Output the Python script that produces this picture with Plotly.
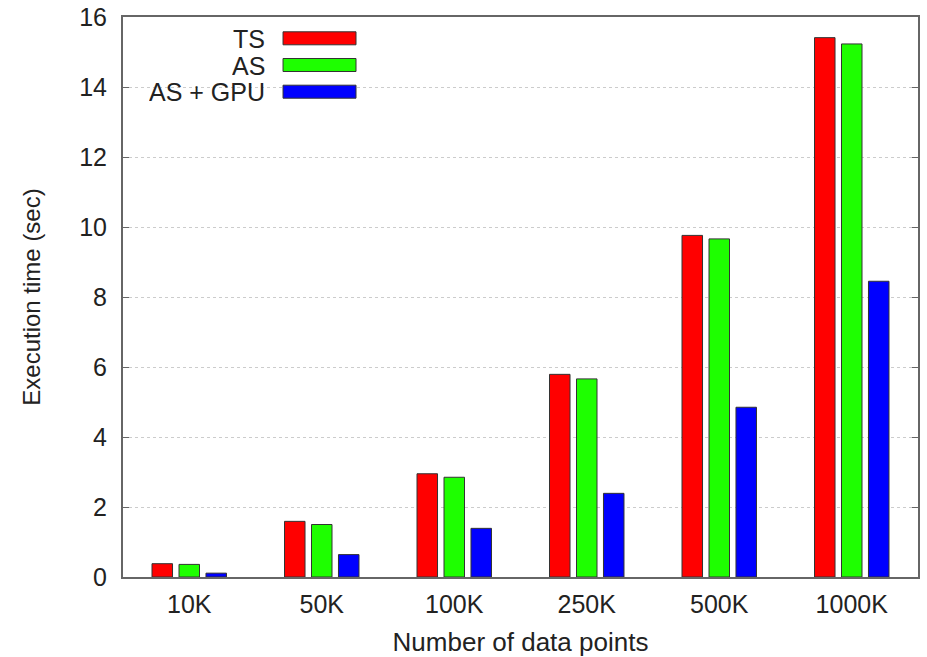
import plotly.graph_objects as go

# Benchmark data: execution time (seconds) per data-set size
categories = ["10K", "50K", "100K", "250K", "500K", "1000K"]
series_names = ["TS", "AS", "AS + GPU"]
ts_times = [0.38, 1.59, 2.95, 5.79, 9.76, 15.41]
as_times = [0.36, 1.50, 2.85, 5.66, 9.66, 15.23]
as_gpu_times = [0.11, 0.64, 1.39, 2.39, 4.85, 8.45]
series_colors = ["#ff0000", "#1eff00", "#0000ff"]
y_ticks = [0, 2, 4, 6, 8, 10, 12, 14, 16]

FONT = "Liberation Sans, Arial, Helvetica, sans-serif"
TEXT_COLOR = "#222222"
FRAME_COLOR = "#666666"

fig = go.Figure()
for name, values, color in zip(series_names, [ts_times, as_times, as_gpu_times], series_colors):
    fig.add_trace(go.Bar(
        x=categories,
        y=values,
        name=name,
        marker=dict(color=color, line=dict(color="#333333", width=1)),
        showlegend=False,
    ))

# Key drawn in the top-left corner: label text to the left of a wide swatch
row0, row_step = 38.3, 26.7          # pixel rows of the key entries
plot_top, plot_h = 17, 560
for i, (name, color) in enumerate(zip(series_names, series_colors)):
    yc = 1 - (row0 + i * row_step - plot_top) / plot_h
    hh = 6.5 / plot_h
    fig.add_shape(type="rect", xref="paper", yref="paper",
                  x0=0.2013, x1=0.2931, y0=yc - hh, y1=yc + hh,
                  fillcolor=color, line=dict(color="#333333", width=1), layer="above")
    fig.add_annotation(xref="paper", yref="paper", x=0.1811, y=yc,
                       text=name, showarrow=False, xanchor="right", yanchor="middle",
                       height=25, valign="middle",
                       font=dict(family=FONT, size=25, color=TEXT_COLOR))

# Blank out the grid behind the key
fig.add_shape(type="rect", xref="paper", yref="y",
              x0=0.002, x1=0.313, y0=13.2, y1=15.8,
              fillcolor="white", line=dict(width=0), layer="between")

fig.update_layout(
    width=927, height=657,
    margin=dict(l=123, r=9, t=17, b=80),
    paper_bgcolor="white", plot_bgcolor="white",
    barmode="group", bargap=0.389, bargroupgap=0.24,
    font=dict(family=FONT, size=24, color=TEXT_COLOR),
)
fig.update_xaxes(
    type="category", range=[-0.5, 5.5], automargin=False,
    showline=True, linecolor=FRAME_COLOR, linewidth=2, mirror=True,
    ticks="", showgrid=False, ticklabelstandoff=4,
    title=dict(text="Number of data points", standoff=20,
               font=dict(family=FONT, size=26, color=TEXT_COLOR)),
    tickfont=dict(family=FONT, size=25, color=TEXT_COLOR),
)
fig.update_yaxes(
    range=[0, 16], tickvals=y_ticks, automargin=False,
    showline=True, linecolor=FRAME_COLOR, linewidth=2, mirror="ticks",
    ticks="inside", ticklen=6, tickcolor=FRAME_COLOR, tickwidth=1,
    showgrid=True, gridcolor="#cccccc", gridwidth=1, griddash="3px,3px",
    zeroline=False, ticklabelstandoff=9,
    title=dict(text="Execution time (sec)", standoff=32,
               font=dict(family=FONT, size=24, color=TEXT_COLOR)),
    tickfont=dict(family=FONT, size=25, color=TEXT_COLOR),
)

fig.write_html("out.html")
